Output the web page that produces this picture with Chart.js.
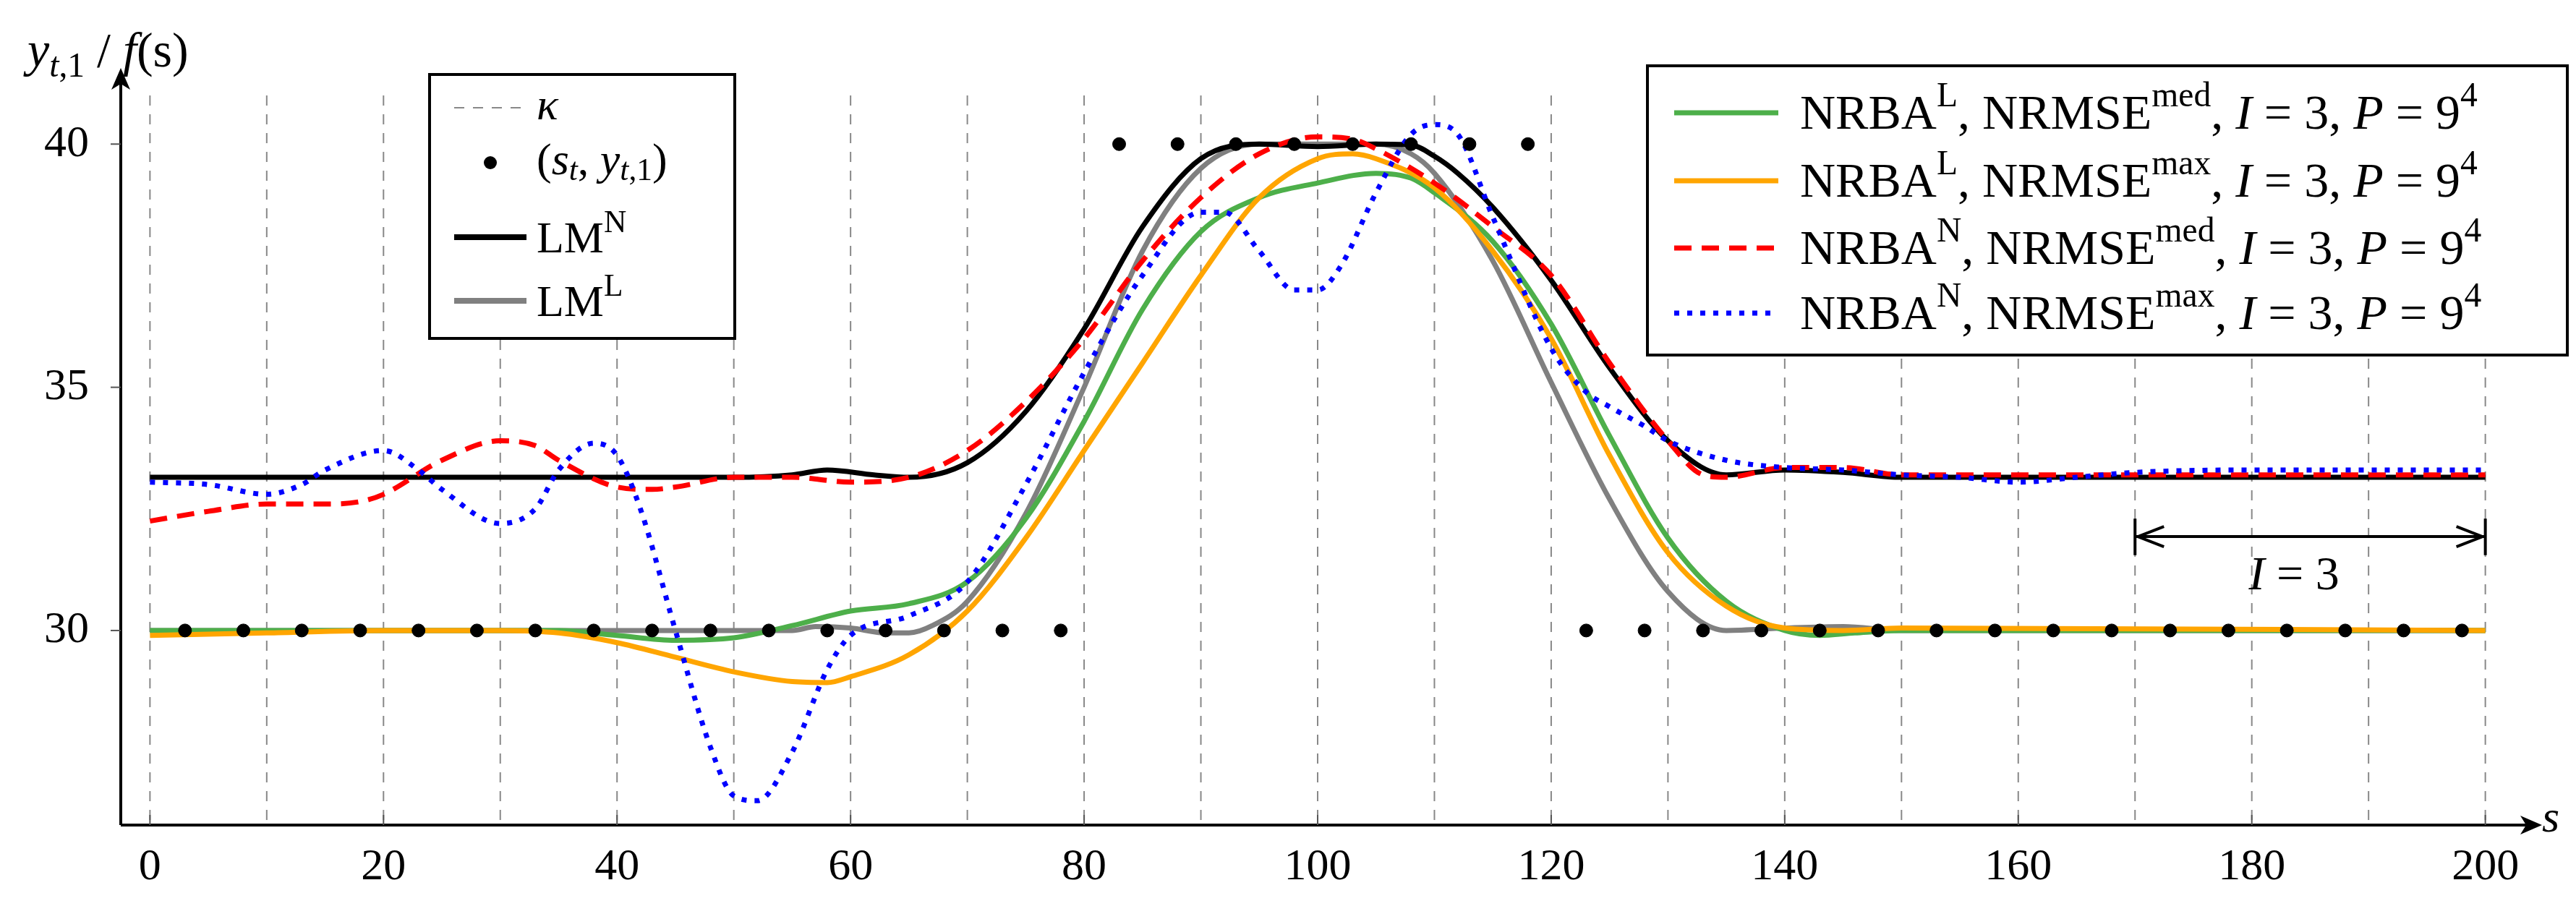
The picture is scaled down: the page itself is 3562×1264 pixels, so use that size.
<!DOCTYPE html>
<html><head><meta charset="utf-8">
<script src="https://cdn.jsdelivr.net/npm/chart.js@4"></script>
<style>html,body{margin:0;padding:0;background:#fff}#w{width:3562px;height:1264px}</style>
</head><body><div id="w"><canvas id="c"></canvas></div>
<script>
const xTicks=[0,20,40,60,80,100,120,140,160,180,200];
const yTicks=[30,35,40];
const knots=[0,10,20,30,40,50,60,70,80,90,100,110,120,130,140,150,160,170,180,190,200];
const sampleS=[3,8,13,18,23,28,33,38,43,48,53,58,63,68,73,78,83,88,93,98,103,108,113,118,123,128,133,138,143,148,153,158,163,168,173,178,183,188,193,198];
const sampleY=[30,30,30,30,30,30,30,30,30,30,30,30,30,30,30,30,40,40,40,40,40,40,40,40,30,30,30,30,30,30,30,30,30,30,30,30,30,30,30,30];

const lmnS=[0,20,40,50,55,58,62,65,70,75,80,85,90,95,100,105,108,110,112,115,120,125,130,135,140,145,150,200];
const lmnY=[33.15,33.15,33.15,33.15,33.2,33.3,33.2,33.15,33.45,34.5,36.2,38.3,39.7,40.0,39.95,40.0,39.98,39.75,39.4,38.7,37.2,35.4,33.9,33.2,33.3,33.25,33.15,33.15];
const lmlS=[0,20,40,55,57,60,63,65,67,70,75,80,85,90,95,100,105,108,110,115,120,125,130,135,140,145,150,200];
const lmlY=[30,30,30,30,30.08,30.05,29.95,29.95,30.1,30.6,32.4,35.0,37.8,39.5,40.0,40.0,40.0,39.8,39.4,37.6,35.1,32.7,30.8,30.0,30.05,30.08,30.0,30.0];
const nlmedS=[0,20,35,40,45,50,55,60,65,70,75,80,85,90,95,100,105,108,110,115,120,125,130,135,140,143,146,150,200];
const nlmedY=[30,30,30,29.9,29.8,29.85,30.1,30.4,30.55,31.0,32.3,34.3,36.6,38.2,38.9,39.2,39.4,39.3,39.0,38.0,36.3,34.0,31.9,30.6,30.0,29.9,29.95,30.0,30.0];
const nlmaxS=[0,10,20,30,35,40,45,50,55,58,60,65,70,75,80,85,90,95,100,103,105,110,115,120,125,130,135,140,145,150,200];
const nlmaxY=[29.9,29.95,30.0,30.0,29.95,29.75,29.45,29.15,28.95,28.93,29.05,29.5,30.4,31.9,33.7,35.5,37.3,38.9,39.7,39.8,39.7,39.1,37.8,36.0,33.6,31.6,30.5,30.05,30.0,30.05,30.0];
const nnmedS=[0,5,10,15,18,20,25,30,33,35,40,43,45,50,55,60,65,70,75,80,85,90,95,100,103,105,110,115,120,125,130,133,135,140,145,150,200];
const nnmedY=[32.25,32.45,32.6,32.6,32.65,32.8,33.5,33.9,33.8,33.5,32.95,32.9,32.95,33.15,33.15,33.05,33.15,33.7,34.7,36.0,37.6,38.9,39.8,40.15,40.1,39.9,39.2,38.3,37.3,35.5,33.9,33.2,33.15,33.35,33.35,33.2,33.2];
const nnmaxS=[0,5,10,13,15,20,23,25,30,33,35,38,40,42,45,48,50,52,55,58,60,65,70,75,80,85,90,92,95,98,100,102,105,108,110,112,115,120,123,125,128,130,135,140,145,150,155,160,165,170,180,200];
const nnmaxY=[33.05,33.0,32.8,33.0,33.3,33.7,33.3,32.9,32.2,32.5,33.3,33.85,33.6,32.5,30.0,27.6,26.6,26.5,27.5,29.2,29.9,30.3,31.0,33.0,35.3,37.3,38.6,38.6,37.8,37.0,37.0,37.5,39.0,40.2,40.4,40.2,38.5,35.8,34.9,34.6,34.2,33.9,33.5,33.35,33.3,33.2,33.15,33.05,33.15,33.25,33.3,33.3];

const pts=(xs,ys)=>xs.map((x,i)=>({x,y:ys[i]}));
const GREEN='#4daf4a',ORANGE='#ffa500',RED='#ff0000',BLUE='#0000ff',GRAY='#808080';
const SERIF='"Liberation Serif","DejaVu Serif",serif';
const line=(d,c,o,extra)=>Object.assign({type:'line',data:d,borderColor:c,borderWidth:7,pointRadius:0,cubicInterpolationMode:'monotone',fill:false,order:o},extra||{});

function runs(ctx,x,y,parts,size){
  for(const p of parts){
    let s=size,dy=0;
    if(p.sup){s=size*0.7;dy=-size*0.38;}
    if(p.sub){s=size*0.7;dy=size*0.2;}
    ctx.font=(p.i?'italic ':'')+s+'px '+SERIF;
    ctx.fillText(p.t,x,y+dy);
    x+=ctx.measureText(p.t).width+(p.gap||0);
  }
}
const nrba=(a,b)=>[{t:'NRBA'},{t:a,sup:1},{t:', NRMSE'},{t:b,sup:1},{t:', '},{t:'I',i:1},{t:' = 3, '},{t:'P',i:1},{t:' = 9'},{t:'4',sup:1}];

const deco={id:'deco',
 beforeDatasetsDraw(ch){
  const c=ch.ctx,xs=ch.scales.x,a=ch.chartArea;
  c.save();c.strokeStyle='#888';c.lineWidth=2;c.setLineDash([14,12]);
  for(const k of knots){const px=xs.getPixelForValue(k);c.beginPath();c.moveTo(px,a.top);c.lineTo(px,a.bottom);c.stroke();}
  c.restore();
 },
 afterDatasetsDraw(ch){
  const c=ch.ctx,xs=ch.scales.x,ys=ch.scales.y,a=ch.chartArea;
  c.save();c.strokeStyle='#000';c.fillStyle='#000';c.lineWidth=4;c.setLineDash([]);
  c.beginPath();c.moveTo(a.left,a.bottom);c.lineTo(a.right+20,a.bottom);c.stroke();
  c.beginPath();c.moveTo(a.left,a.bottom);c.lineTo(a.left,a.top-20);c.stroke();
  c.beginPath();c.moveTo(a.right+38,a.bottom);c.lineTo(a.right+8,a.bottom-13);c.lineTo(a.right+16,a.bottom);c.lineTo(a.right+8,a.bottom+13);c.closePath();c.fill();
  c.beginPath();c.moveTo(a.left,a.top-38);c.lineTo(a.left-13,a.top-8);c.lineTo(a.left,a.top-16);c.lineTo(a.left+13,a.top-8);c.closePath();c.fill();
  c.lineWidth=2;c.strokeStyle='#555';
  for(const t of xTicks){const px=xs.getPixelForValue(t);c.beginPath();c.moveTo(px,a.bottom);c.lineTo(px,a.bottom-14);c.stroke();}
  for(const t of yTicks){const py=ys.getPixelForValue(t);c.beginPath();c.moveTo(a.left,py);c.lineTo(a.left-14,py);c.stroke();}
  c.strokeStyle='#000';c.lineWidth=4;
  const x1=xs.getPixelForValue(170),x2=xs.getPixelForValue(200),yy=ys.getPixelForValue(31.93);
  c.beginPath();c.moveTo(x1,ys.getPixelForValue(32.3));c.lineTo(x1,ys.getPixelForValue(31.55));c.moveTo(x2,ys.getPixelForValue(32.3));c.lineTo(x2,ys.getPixelForValue(31.55));c.moveTo(x1,yy);c.lineTo(x2,yy);c.stroke();
  c.beginPath();c.moveTo(x1+4,yy);c.lineTo(x1+40,yy-14);c.moveTo(x1+4,yy);c.lineTo(x1+40,yy+14);c.moveTo(x2-4,yy);c.lineTo(x2-40,yy-14);c.moveTo(x2-4,yy);c.lineTo(x2-40,yy+14);c.stroke();
  c.textBaseline='middle';
  const ix=xs.getPixelForValue(185);
  runs(c,ix-85,ys.getPixelForValue(31.1),[{t:'I',i:1},{t:' = 3'}],66);
  c.textBaseline='alphabetic';
  runs(c,38,92,[{t:'y',i:1},{t:'t',sub:1,i:1},{t:',1',sub:1},{t:' / '},{t:'f',i:1},{t:'(s)'}],68);
  c.font='italic 62px '+SERIF;c.fillText('s',3515,1150);
  // left legend
  c.fillStyle='#fff';c.fillRect(594,103,422,365);c.strokeStyle='#000';c.lineWidth=4;c.strokeRect(594,103,422,365);
  c.fillStyle='#000';c.textBaseline='middle';
  c.lineWidth=2;c.strokeStyle='#888';c.setLineDash([14,12]);c.beginPath();c.moveTo(628,149);c.lineTo(728,149);c.stroke();c.setLineDash([]);
  runs(c,742,149,[{t:'κ',i:1}],62);
  c.beginPath();c.arc(678,225,9,0,7);c.fill();
  runs(c,742,225,[{t:'('},{t:'s',i:1},{t:'t',i:1,sub:1},{t:', '},{t:'y',i:1},{t:'t',i:1,sub:1},{t:',1',sub:1},{t:')'}],62);
  c.lineWidth=8;c.strokeStyle='#000';c.beginPath();c.moveTo(628,328);c.lineTo(728,328);c.stroke();
  runs(c,742,333,[{t:'LM'},{t:'N',sup:1}],62);
  c.strokeStyle=GRAY;c.beginPath();c.moveTo(628,416);c.lineTo(728,416);c.stroke();
  runs(c,742,421,[{t:'LM'},{t:'L',sup:1}],62);
  // right legend
  c.fillStyle='#fff';c.fillRect(2278,91,1272,400);c.strokeStyle='#000';c.lineWidth=4;c.strokeRect(2278,91,1272,400);
  c.fillStyle='#000';
  const ent=[[GREEN,[],'L','med',156],[ORANGE,[],'L','max',250],[RED,[24,14],'N','med',343],[BLUE,[7,11],'N','max',433]];
  for(const [col,d,a1,b1,yy2] of ent){
    c.strokeStyle=col;c.lineWidth=7;c.setLineDash(d);c.beginPath();c.moveTo(2315,yy2);c.lineTo(2459,yy2);c.stroke();c.setLineDash([]);
    runs(c,2489,yy2+4,nrba(a1,b1),68);
  }
  c.restore();
 }};

new Chart(document.getElementById('c'),{
 data:{datasets:[
  {type:'scatter',data:pts(sampleS,sampleY),backgroundColor:'#000',borderColor:'#000',pointRadius:9,order:0},
  line(pts(nnmaxS,nnmaxY),BLUE,1,{borderDash:[7,11]}),
  line(pts(nnmedS,nnmedY),RED,2,{borderDash:[24,14]}),
  line(pts(lmnS,lmnY),'#000',3),
  line(pts(nlmaxS,nlmaxY),ORANGE,4),
  line(pts(nlmedS,nlmedY),GREEN,5),
  line(pts(lmlS,lmlY),GRAY,6)
 ]},
 options:{responsive:true,maintainAspectRatio:false,animation:false,devicePixelRatio:1,
  layout:{padding:{left:0,right:85,top:132,bottom:0}},
  plugins:{legend:{display:false},tooltip:{enabled:false}},
  scales:{
   x:{type:'linear',min:-2.5,max:202.5,grid:{display:false},border:{display:false},
      afterBuildTicks:s=>{s.ticks=xTicks.map(v=>({value:v}));},
      afterFit:s=>{s.height=123;},
      ticks:{color:'#000',font:{family:SERIF,size:62},padding:14,maxRotation:0,autoSkip:false}},
   y:{type:'linear',min:26,max:41,grid:{display:false},border:{display:false},
      afterBuildTicks:s=>{s.ticks=yTicks.map(v=>({value:v}));},
      afterFit:s=>{s.width=167;},
      ticks:{color:'#000',font:{family:SERIF,size:62},padding:36}}
  }},
 plugins:[deco]
});
</script></body></html>
